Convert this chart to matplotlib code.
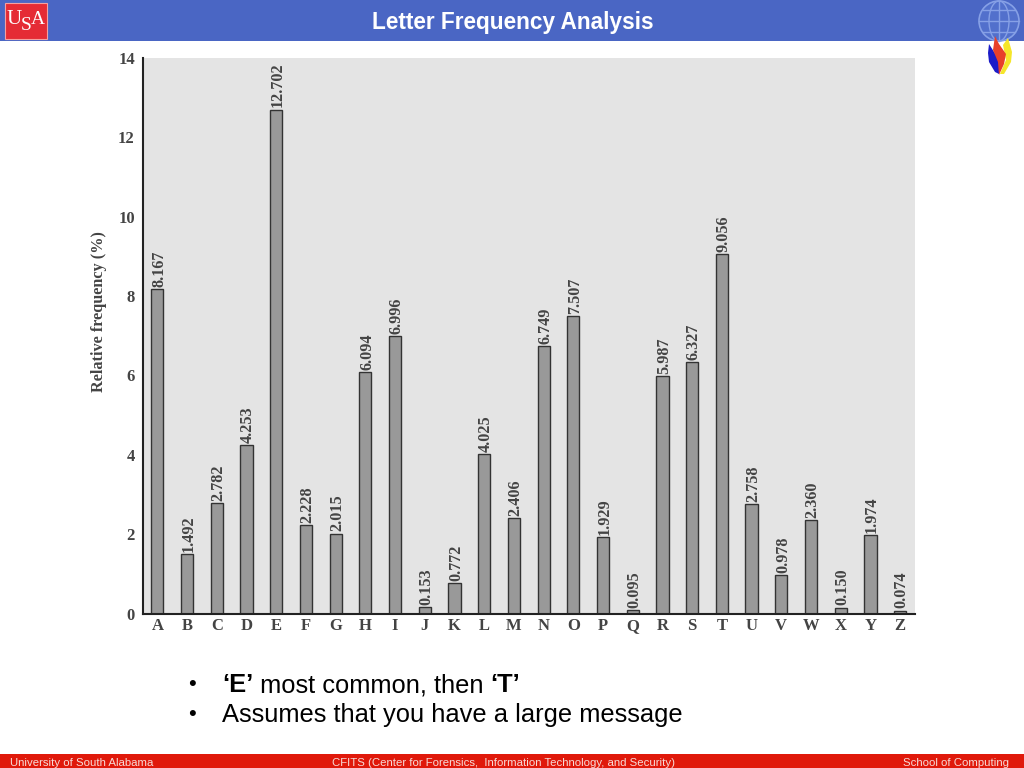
import matplotlib
matplotlib.use('Agg')
import matplotlib.pyplot as plt
from matplotlib.patches import Rectangle, Circle, Ellipse, Polygon

letters = list('ABCDEFGHIJKLMNOPQRSTUVWXYZ')
freqs = [8.167, 1.492, 2.782, 4.253, 12.702, 2.228, 2.015, 6.094, 6.996, 0.153,
         0.772, 4.025, 2.406, 6.749, 7.507, 1.929, 0.095, 5.987, 6.327, 9.056,
         2.758, 0.978, 2.360, 0.150, 1.974, 0.074]
freq_labels = ['8.167', '1.492', '2.782', '4.253', '12.702', '2.228', '2.015', '6.094', '6.996', '0.153',
               '0.772', '4.025', '2.406', '6.749', '7.507', '1.929', '0.095', '5.987', '6.327', '9.056',
               '2.758', '0.978', '2.360', '0.150', '1.974', '0.074']
y_ticks = [0, 2, 4, 6, 8, 10, 12, 14]

SERIF = 'Liberation Serif'
SANS = 'Liberation Sans'
W, H = 1024, 768

fig = plt.figure(figsize=(W / 100, H / 100), dpi=100, facecolor='white')

# slide layer in pixel coordinates
bg = fig.add_axes([0, 0, 1, 1])
bg.set_xlim(0, W)
bg.set_ylim(H, 0)
bg.axis('off')
bg.add_patch(Rectangle((0, 0), W, 41, color='#4a66c4', lw=0))
bg.add_patch(Rectangle((0, 754), W, 14, color='#e0190b', lw=0))

# USA logo
bg.add_patch(Rectangle((4.5, 2.5), 42, 36, facecolor='#e52b35', edgecolor='#f4a0a0', lw=0.8))
bg.text(14, 19, 'U', family=SERIF, color='white', fontsize=15, ha='center', va='center')
bg.text(26.5, 26, 'S', family=SERIF, color='white', fontsize=14, ha='center', va='center')
bg.text(38, 20, 'A', family=SERIF, color='white', fontsize=14, ha='center', va='center')

# globe
globe_c = (999, 21)
bg.add_patch(Circle(globe_c, 20, facecolor='#5270cc', edgecolor='#86a0e6', lw=1.2))
bg.add_patch(Ellipse(globe_c, 20, 40, facecolor='none', edgecolor='#86a0e6', lw=1))
bg.plot([999, 999], [1, 41], color='#86a0e6', lw=1)
for yy, half in [(10, 16), (21, 20), (32, 16)]:
    bg.plot([999 - half, 999 + half], [yy, yy], color='#86a0e6', lw=1)

# flame
bg.add_patch(Polygon([(1003, 45), (1008, 38), (1012, 52), (1011, 62), (1004, 74), (1000, 74), (1006, 60)],
                     color='#f5e62a', lw=0))
bg.add_patch(Polygon([(989, 44), (996, 55), (1000, 62), (999, 74), (995, 72), (989, 62), (988, 53)],
                     color='#1c1cc8', lw=0))
bg.add_patch(Polygon([(995, 36), (999, 44), (1006, 54), (1004, 64), (999, 75), (998, 62), (993, 50)],
                     color='#e8402a', lw=0))

bg.text(512.5, 22.5, 'Letter Frequency Analysis', family=SANS, fontweight='bold', color='white',
        fontsize=16.3, ha='center', va='center')

# bullets
bg.text(192, 684, '•', family=SANS, fontsize=16, color='black', ha='center', va='center')
bg.text(192, 714, '•', family=SANS, fontsize=16, color='black', ha='center', va='center')
renderer = fig.canvas.get_renderer()
x = 222
for piece, weight in [('‘E’', 'bold'), (' most common, then ', 'normal'), ('‘T’', 'bold')]:
    t = bg.text(x, 692, piece, family=SANS, fontweight=weight, fontsize=18.4, color='black',
                ha='left', va='baseline')
    x += t.get_window_extent(renderer).width - (1 if piece.startswith(' ') else 0)
bg.text(222, 722, 'Assumes that you have a large message', family=SANS, fontsize=18.4, color='black',
        ha='left', va='baseline')

# footer
bg.text(10, 763, 'University of South Alabama', family=SANS, fontsize=8.2, color='#f6dcd8', ha='left', va='center')
bg.text(503, 763, 'CFITS (Center for Forensics,  Information Technology, and Security)', family=SANS,
        fontsize=8.2, color='#f6dcd8', ha='center', va='center')
bg.text(1009, 763, 'School of Computing', family=SANS, fontsize=8.2, color='#f6dcd8', ha='right', va='center')

# chart
left, right, top, bottom = 142.5, 915, 58, 613.5
ax = fig.add_axes([left / W, 1 - bottom / H, (right - left) / W, (bottom - top) / H])
ax.set_facecolor('#e4e4e4')
ax.bar(range(26), freqs, width=0.41, color='#999999', edgecolor='#333333', linewidth=1.0, zorder=2)
ax.set_xlim(-0.5, 25.5)
ax.set_ylim(0, 14)
for i, lab in enumerate(freq_labels):
    ax.annotate(lab, (i, freqs[i]), xytext=(1.2, 1.5), textcoords='offset points', rotation=90,
                ha='center', va='bottom', family=SERIF, fontweight='bold', fontsize=11.7, color='#444444')
ax.set_xticks(range(26), letters, family=SERIF, fontweight='bold', fontsize=12, color='#444444')
ax.set_yticks(y_ticks, [str(v) for v in y_ticks], family=SERIF, fontweight='bold', fontsize=12, color='#444444')
ax.tick_params(length=0, axis='x', pad=3)
ax.tick_params(length=0, axis='y', pad=5.5)
ax.spines['top'].set_visible(False)
ax.spines['right'].set_visible(False)
ax.spines['left'].set_linewidth(1.5)
ax.spines['bottom'].set_linewidth(1.5)
ax.spines['left'].set_color('#222222')
ax.spines['bottom'].set_color('#222222')
ax.set_ylabel('Relative frequency (%)', family=SERIF, fontweight='bold', fontsize=11.7, color='#444444')
ax.yaxis.set_label_coords((107 - left) / (right - left), 1 - (312 - top) / (bottom - top))

fig.savefig('out.png', dpi=100)
